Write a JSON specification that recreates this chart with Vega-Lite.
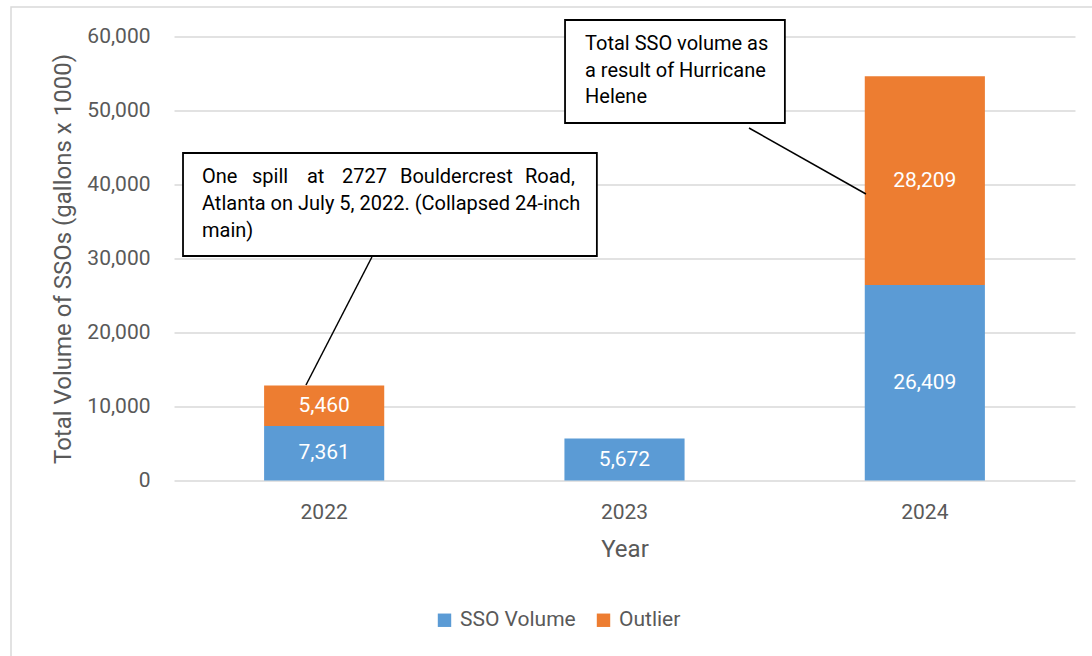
{
  "$schema": "https://vega.github.io/schema/vega-lite/v6.json",
  "width": 901,
  "height": 444,
  "autosize": "none",
  "padding": {"left": 174, "top": 36.5, "right": 17, "bottom": 175.5},
  "config": {
    "view": {"stroke": null},
    "font": "Roboto",
    "axis": {"labelColor": "#595959", "titleColor": "#595959", "titleFontWeight": "normal", "ticks": false, "domain": false}
  },
  "resolve": {"scale": {"x": "independent"}, "axis": {"x": "independent", "y": "independent"}},
  "layer": [
    {
      "data": {"values": [{"x1": -0.5427, "x2": 3.3, "y1": 63986, "y2": -30000}]},
      "mark": {"type": "rect", "fill": null, "stroke": "#D9D9D9", "strokeWidth": 1.5},
      "encoding": {
        "x": {"field": "x1", "type": "quantitative", "scale": {"domain": [0, 3]}, "axis": null},
        "x2": {"field": "x2"},
        "y": {"field": "y1", "type": "quantitative", "scale": {"domain": [0, 60000], "nice": false}, "axis": null},
        "y2": {"field": "y2"}
      }
    },
    {
      "data": {"name": "bars", "values": [
        {"Year": "2022", "Series": "SSO Volume", "k": 1, "v": 7361},
        {"Year": "2022", "Series": "Outlier", "k": 2, "v": 5460},
        {"Year": "2023", "Series": "SSO Volume", "k": 1, "v": 5672},
        {"Year": "2024", "Series": "SSO Volume", "k": 1, "v": 26409},
        {"Year": "2024", "Series": "Outlier", "k": 2, "v": 28209}
      ]},
      "transform": [
        {"stack": "v", "groupby": ["Year"], "sort": [{"field": "k", "order": "ascending"}], "as": ["y0", "y1"]}
      ],
      "mark": {"type": "bar"},
      "encoding": {
        "x": {"field": "Year", "type": "nominal", "scale": {"paddingInner": 0.6, "paddingOuter": 0.3},
          "axis": {"labelAngle": 0, "labelFontSize": 21, "labelPadding": 21, "title": "Year", "titleFontSize": 24, "titlePadding": 15}},
        "y": {"field": "y1", "type": "quantitative", "scale": {"domain": [0, 60000], "nice": false},
          "axis": {"title": "Total Volume of SSOs (gallons x 1000)", "titleFontSize": 24, "titlePadding": 11, "labelFontSize": 21, "labelPadding": 24,
            "values": [0, 10000, 20000, 30000, 40000, 50000, 60000], "format": ",.0f", "grid": true, "gridColor": "#D9D9D9", "gridWidth": 1.5}},
        "y2": {"field": "y0"},
        "color": {"field": "Series", "type": "nominal",
          "scale": {"domain": ["SSO Volume", "Outlier"], "range": ["#5B9BD5", "#ED7D31"]},
          "legend": {"title": null, "orient": "none", "legendX": 260, "legendY": 573, "direction": "horizontal", "symbolType": "square", "symbolSize": 180, "symbolStrokeWidth": 0, "labelFontSize": 21, "labelColor": "#595959", "columnPadding": 17, "labelOffset": 5, "padding": 0}}
      }
    },
    {
      "data": {"name": "bars"},
      "transform": [
        {"stack": "v", "groupby": ["Year"], "sort": [{"field": "k", "order": "ascending"}], "as": ["y0", "y1"]},
        {"calculate": "(datum.y0 + datum.y1) / 2", "as": "mid"}
      ],
      "mark": {"type": "text", "color": "white", "fontSize": 21, "baseline": "middle"},
      "encoding": {
        "x": {"field": "Year", "type": "nominal", "scale": {"paddingInner": 0.6, "paddingOuter": 0.3}, "axis": null},
        "y": {"field": "mid", "type": "quantitative", "scale": {"domain": [0, 60000], "nice": false}, "axis": null},
        "text": {"field": "v", "type": "quantitative", "format": ","}
      }
    },
    {
      "data": {"values": [
        {"x1": 0.030, "x2": 1.408, "y1": 44257, "y2": 30338},
        {"x1": 1.302, "x2": 2.034, "y1": 62230, "y2": 48311}
      ]},
      "mark": {"type": "rect", "fill": "white", "stroke": "black", "strokeWidth": 1.8},
      "encoding": {
        "x": {"field": "x1", "type": "quantitative", "scale": {"domain": [0, 3]}, "axis": null},
        "x2": {"field": "x2"},
        "y": {"field": "y1", "type": "quantitative", "scale": {"domain": [0, 60000], "nice": false}, "axis": null},
        "y2": {"field": "y2"}
      }
    },
    {
      "data": {"values": [
        {"x1": 0.659, "y1": 30203, "x2": 0.4395, "y2": 12905},
        {"x1": 1.9145, "y1": 47635, "x2": 2.304, "y2": 38716}
      ]},
      "mark": {"type": "rule", "color": "black", "strokeWidth": 1.5},
      "encoding": {
        "x": {"field": "x1", "type": "quantitative", "scale": {"domain": [0, 3]}, "axis": null},
        "x2": {"field": "x2"},
        "y": {"field": "y1", "type": "quantitative", "scale": {"domain": [0, 60000], "nice": false}, "axis": null},
        "y2": {"field": "y2"}
      }
    },
    {
      "data": {"values": [
        {"t": "One", "x": 0.0932, "y": 40203},
        {"t": "spill", "x": 0.2597, "y": 40203},
        {"t": "at", "x": 0.4428, "y": 40203},
        {"t": "2727", "x": 0.5594, "y": 40203},
        {"t": "Bouldercrest", "x": 0.7525, "y": 40203},
        {"t": "Road,", "x": 1.1687, "y": 40203},
        {"t": "Atlanta on July 5, 2022. (Collapsed 24-inch", "x": 0.0932, "y": 36554},
        {"t": "main)", "x": 0.0932, "y": 32905},
        {"t": "Total SSO volume as", "x": 1.3685, "y": 58176},
        {"t": "a result of Hurricane", "x": 1.3685, "y": 54527},
        {"t": "Helene", "x": 1.3685, "y": 51013}
      ]},
      "mark": {"type": "text", "align": "left", "baseline": "alphabetic", "fontSize": 20, "color": "black"},
      "encoding": {
        "x": {"field": "x", "type": "quantitative", "scale": {"domain": [0, 3]}, "axis": null},
        "y": {"field": "y", "type": "quantitative", "scale": {"domain": [0, 60000], "nice": false}, "axis": null},
        "text": {"field": "t"}
      }
    }
  ]
}
